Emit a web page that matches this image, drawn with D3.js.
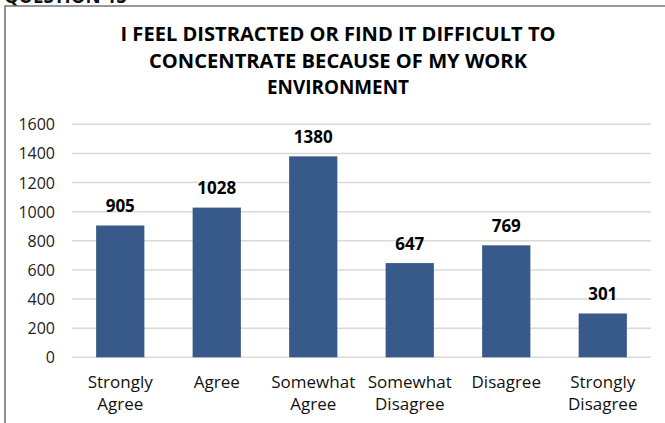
<!DOCTYPE html>
<html><head><meta charset="utf-8">
<script src="https://cdn.jsdelivr.net/npm/d3@7"></script>
<style>body{margin:0;background:#fff}svg{display:block}</style>
</head><body>
<svg id="c" width="665" height="423"></svg>
<script>
const categories = [["Strongly","Agree"],["Agree"],["Somewhat","Agree"],["Somewhat","Disagree"],["Disagree"],["Strongly","Disagree"]];
const values = [905, 1028, 1380, 647, 769, 301];
const yTicks = [0, 200, 400, 600, 800, 1000, 1200, 1400, 1600];
const titleLines = ["I FEEL DISTRACTED OR FIND IT DIFFICULT TO", "CONCENTRATE BECAUSE OF MY WORK", "ENVIRONMENT"];
const titleWidths = [435, 378, 142];
const heading = "QUESTION 15";

const svg = d3.select("#c");
const font = "'Open Sans', 'Noto Sans', sans-serif";
const m = {left:72, right:651, top:124.3, bottom:357.3};

// heading, cut off at top
svg.append("text").attr("x",4).attr("y",3).attr("font-family",font).attr("font-weight","bold")
  .attr("font-size",20).attr("textLength",123).attr("lengthAdjust","spacingAndGlyphs").attr("fill","#111").text(heading);

// frame
svg.append("path").attr("d","M5,430 V6 H670").attr("fill","none").attr("stroke","#777").attr("stroke-width",1.6);

// title
titleLines.forEach((t,i)=>{
  svg.append("text").attr("x",338).attr("y",41+i*26.5).attr("text-anchor","middle")
    .attr("font-family",font).attr("font-weight","bold").attr("font-size",20)
    .attr("textLength",titleWidths[i]).attr("lengthAdjust","spacingAndGlyphs")
    .attr("fill","#000").text(t);
});

const x = d3.scaleBand().domain(d3.range(values.length)).range([m.left,m.right])
  .paddingInner(0.5).paddingOuter(0.25);
const y = d3.scaleLinear().domain([0,1600]).range([m.bottom,m.top]);

// gridlines
svg.append("g").selectAll("line").data(yTicks).join("line")
  .attr("x1",m.left).attr("x2",m.right).attr("y1",d=>y(d)).attr("y2",d=>y(d))
  .attr("stroke","#d9d9d9").attr("stroke-width",1.5);

// y axis labels
const yAxis = d3.axisLeft(y).tickValues(yTicks).tickFormat(d3.format("d")).tickSize(0).tickPadding(0);
const ga = svg.append("g").attr("transform",`translate(55,0)`).call(yAxis);
ga.select(".domain").remove();
ga.selectAll("text").attr("font-family",font).attr("font-size",16).attr("fill","#222").attr("dy","0.34em");

// bars
svg.append("g").selectAll("rect").data(values).join("rect")
  .attr("x",(d,i)=>x(i)).attr("width",x.bandwidth())
  .attr("y",d=>y(d)).attr("height",d=>y(0)-y(d))
  .attr("fill","#385a8b");

// value labels
svg.append("g").selectAll("text").data(values).join("text")
  .attr("x",(d,i)=>x(i)+x.bandwidth()/2).attr("y",d=>y(d)-13.5)
  .attr("text-anchor","middle").attr("font-family",font).attr("font-weight","bold")
  .attr("font-size",17).attr("fill","#000").text(d=>d);

// category labels
const cg = svg.append("g").selectAll("text").data(categories).join("text")
  .attr("x",(d,i)=>x(i)+x.bandwidth()/2).attr("y",387.5)
  .attr("text-anchor","middle").attr("font-family",font).attr("font-size",17).attr("fill","#111");
cg.selectAll("tspan").data(d=>d).join("tspan")
  .attr("x",function(){return this.parentNode.getAttribute("x");})
  .attr("dy",(d,i)=>i===0?0:22).text(d=>d);
</script>
</body></html>
